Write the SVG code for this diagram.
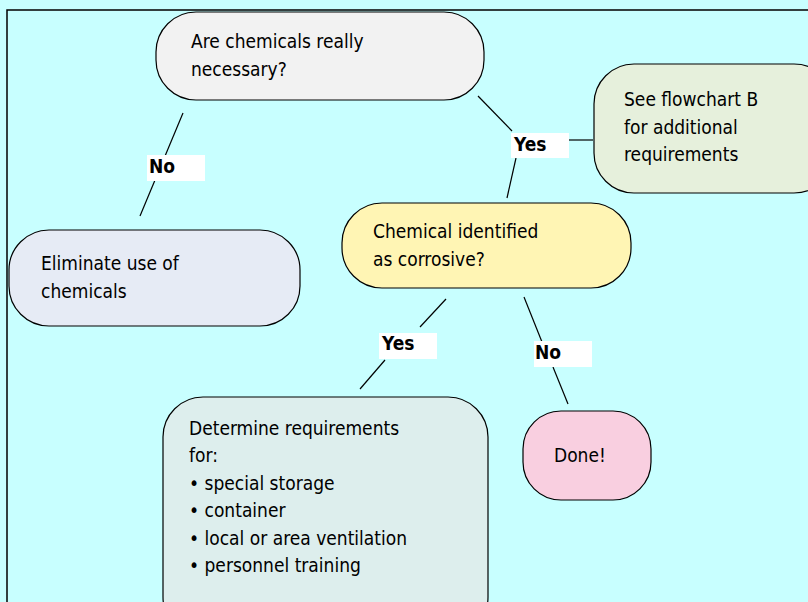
<svg xmlns="http://www.w3.org/2000/svg" width="808" height="602" viewBox="0 0 808 602">
<style>
.node{stroke:#000;stroke-width:1.2}
.t{font-family:"DejaVu Sans Condensed","Liberation Sans Narrow","Liberation Sans",sans-serif;font-size:19px;fill:#000}
.lb{font-family:"DejaVu Sans Condensed","Liberation Sans",sans-serif;font-size:19px;font-weight:bold;fill:#000}
.ln{stroke:#000;stroke-width:1.2;fill:none}
.lbox{fill:#fff}
</style>
<rect x="0" y="0" width="808" height="602" fill="#c8ffff"/>
<rect x="7" y="10" width="806" height="600" fill="none" stroke="#000" stroke-width="1.5"/>
<g id="connectors">
<line class="ln" x1="183" y1="113" x2="140" y2="216"/>
<rect class="lbox" x="147" y="155" width="58" height="26"/>
<text class="lb" x="149" y="173">No</text>
<line class="ln" x1="478" y1="96" x2="512" y2="131"/>
<line class="ln" x1="516" y1="158" x2="507" y2="198"/>
<line class="ln" x1="569" y1="140" x2="593" y2="140"/>
<rect class="lbox" x="511" y="133" width="58" height="25"/>
<text class="lb" x="514" y="151">Yes</text>
<line class="ln" x1="446" y1="299" x2="420" y2="327"/>
<line class="ln" x1="385" y1="360" x2="360" y2="389"/>
<rect class="lbox" x="379" y="333" width="58" height="26"/>
<text class="lb" x="382" y="350">Yes</text>
<line class="ln" x1="524" y1="297" x2="542" y2="342"/>
<line class="ln" x1="553" y1="367" x2="568" y2="404"/>
<rect class="lbox" x="534" y="341" width="58" height="26"/>
<text class="lb" x="535" y="359">No</text>
</g>
<g id="n1">
<rect class="node" x="156" y="12" width="328" height="88" rx="40" fill="#f2f2f2"/>
<text class="t" x="191" y="48">Are chemicals really</text>
<text class="t" x="191" y="76">necessary?</text>
</g>
<g id="n2">
<rect class="node" x="594" y="64" width="240" height="129" rx="40" fill="#e6f0dc"/>
<text class="t" x="624" y="106">See flowchart B</text>
<text class="t" x="624" y="134">for additional</text>
<text class="t" x="624" y="161">requirements</text>
</g>
<g id="n3">
<rect class="node" x="342" y="203" width="289" height="85" rx="40" fill="#fff5b4"/>
<text class="t" x="373" y="238">Chemical identified</text>
<text class="t" x="373" y="266">as corrosive?</text>
</g>
<g id="n4">
<rect class="node" x="9" y="230" width="291" height="96" rx="40" fill="#e6ebf5"/>
<text class="t" x="41" y="270">Eliminate use of</text>
<text class="t" x="41" y="298">chemicals</text>
</g>
<g id="n5">
<rect class="node" x="163" y="397" width="325" height="240" rx="40" fill="#ddeeed"/>
<text class="t" x="189" y="435">Determine requirements</text>
<text class="t" x="189" y="462">for:</text>
<text class="t" x="189" y="490">• special storage</text>
<text class="t" x="189" y="517">• container</text>
<text class="t" x="189" y="545">• local or area ventilation</text>
<text class="t" x="189" y="572">• personnel training</text>
</g>
<g id="n6">
<rect class="node" x="523" y="411" width="128" height="89" rx="38" fill="#f9cfe0"/>
<text class="t" x="554" y="462">Done!</text>
</g>
</svg>
